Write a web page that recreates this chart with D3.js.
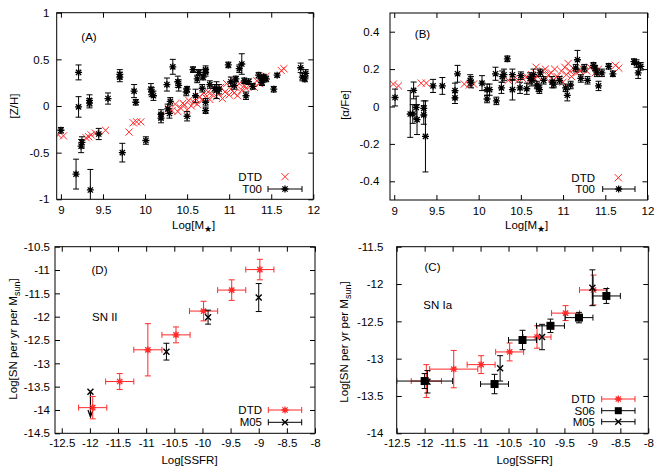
<!DOCTYPE html>
<html><head><meta charset="utf-8">
<script src="https://cdn.jsdelivr.net/npm/d3@7"></script>
<style>body{margin:0;background:#fff}svg{display:block}text{font-family:"Liberation Sans",Arial,sans-serif;font-size:11.5px;fill:#000}</style>
</head><body><svg id="c" width="667" height="467"></svg>
<script>
// ---------- DATA ----------
// Panel A: [Z/H] vs Log M*
const t00A = [[9.00,-0.26,0.03],[9.21,0.36,0.08],[9.21,-0.01,0.11],[9.18,-0.73,0.16],[9.24,-0.43,0.07],[9.25,-0.39,0.06],[9.34,0.06,0.06],[9.34,0.03,0.05],[9.35,-0.90,0.22],[9.45,-0.30,0.06],[9.56,0.08,0.06],[9.70,0.34,0.05],[9.70,0.31,0.05],[9.73,-0.50,0.10],[9.87,0.16,0.07],[9.89,0.04,0.03],[10.01,-0.37,0.04],[10.07,0.18,0.06],[10.08,0.15,0.05],[10.10,0.11,0.05],[10.19,-0.09,0.05],[10.19,-0.13,0.05],[10.26,0.23,0.07],[10.27,-0.03,0.05],[10.29,-0.08,0.05],[10.30,0.05,0.04],[10.33,0.42,0.08],[10.39,0.26,0.06],[10.40,0.22,0.06],[10.49,0.15,0.04],[10.50,0.18,0.03],[10.50,-0.11,0.05],[10.57,0.39,0.03],[10.60,0.11,0.07],[10.62,0.29,0.04],[10.64,0.36,0.03],[10.68,0.19,0.04],[10.69,0.31,0.03],[10.72,0.39,0.04],[10.72,0.36,0.04],[10.72,0.04,0.04],[10.72,-0.05,0.03],[10.77,0.23,0.04],[10.83,0.19,0.04],[10.85,0.17,0.09],[10.88,0.18,0.05],[10.99,0.44,0.03],[11.02,0.26,0.05],[11.06,0.22,0.04],[11.08,0.29,0.03],[11.12,0.40,0.04],[11.15,0.45,0.11],[11.18,0.27,0.03],[11.20,0.11,0.04],[11.23,0.26,0.03],[11.28,0.21,0.03],[11.35,0.33,0.03],[11.38,0.29,0.04],[11.39,0.25,0.03],[11.41,0.31,0.03],[11.44,0.29,0.03],[11.53,0.18,0.03],[11.57,0.33,0.02],[11.85,0.41,0.05],[11.87,0.31,0.04],[11.90,0.29,0.03],[11.91,0.35,0.04]];
const dtdA = [[8.97,-0.31],[9.03,-0.32],[9.30,-0.34],[9.33,-0.33],[9.36,-0.31],[9.41,-0.29],[9.53,-0.26],[9.81,-0.28],[9.86,-0.18],[9.90,-0.17],[9.95,-0.17],[10.28,-0.03],[10.32,-0.05],[10.36,0.02],[10.39,-0.06],[10.42,-0.02],[10.45,0.03],[10.47,0.01],[10.50,-0.04],[10.52,0.06],[10.55,0.00],[10.58,0.04],[10.60,0.08],[10.62,0.02],[10.65,0.10],[10.68,0.06],[10.70,0.14],[10.72,0.09],[10.75,0.15],[10.77,0.07],[10.80,0.12],[10.82,0.18],[10.85,0.10],[10.87,0.14],[10.90,0.20],[10.92,0.08],[10.95,0.15],[10.97,0.24],[11.00,0.12],[11.02,0.18],[11.04,0.28],[11.06,0.14],[11.08,0.20],[11.10,0.11],[11.12,0.24],[11.15,0.17],[11.18,0.22],[11.20,0.19],[11.23,0.26],[11.26,0.22],[11.30,0.20],[11.33,0.27],[11.36,0.24],[11.40,0.30],[11.44,0.32],[11.62,0.38],[11.65,0.40]];
// Panel B: [alpha/Fe] vs Log M*
const t00B = [[9.01,0.048,0.045],[9.19,-0.04,0.125],[9.22,-0.04,0.05],[9.23,0.086,0.045],[9.26,-0.005,0.06],[9.27,-0.07,0.08],[9.35,-0.01,0.04],[9.35,-0.045,0.05],[9.37,-0.16,0.19],[9.46,0.11,0.035],[9.57,0.11,0.045],[9.72,0.085,0.04],[9.72,0.046,0.03],[9.75,0.175,0.045],[9.90,0.14,0.03],[9.91,0.13,0.03],[10.04,0.125,0.04],[10.10,0.09,0.03],[10.10,0.04,0.02],[10.13,0.09,0.03],[10.20,0.175,0.035],[10.21,0.03,0.02],[10.27,0.10,0.03],[10.28,0.16,0.03],[10.30,0.17,0.03],[10.34,0.255,0.015],[10.40,0.09,0.055],[10.40,0.17,0.03],[10.49,0.10,0.03],[10.50,0.165,0.02],[10.57,0.095,0.03],[10.61,0.15,0.03],[10.63,0.14,0.03],[10.65,0.17,0.03],[10.69,0.115,0.02],[10.71,0.10,0.02],[10.72,0.09,0.02],[10.73,0.18,0.02],[10.77,0.14,0.02],[10.87,0.13,0.03],[10.89,0.12,0.02],[10.96,0.14,0.02],[11.03,0.10,0.02],[11.05,0.06,0.03],[11.09,0.115,0.02],[11.15,0.205,0.02],[11.17,0.25,0.05],[11.21,0.15,0.02],[11.25,0.205,0.02],[11.29,0.14,0.02],[11.36,0.22,0.015],[11.38,0.205,0.015],[11.40,0.18,0.02],[11.42,0.11,0.025],[11.46,0.18,0.02],[11.54,0.215,0.015],[11.59,0.175,0.015],[11.84,0.24,0.015],[11.87,0.23,0.02],[11.89,0.18,0.03],[11.92,0.215,0.02]];
const dtdB = [[8.99,0.12],[9.05,0.11],[9.32,0.125],[9.38,0.125],[9.83,0.12],[9.89,0.115],[9.94,0.12],[10.35,0.14],[10.42,0.15],[10.47,0.14],[10.52,0.15],[10.57,0.16],[10.60,0.14],[10.63,0.17],[10.66,0.15],[10.68,0.21],[10.70,0.16],[10.73,0.18],[10.76,0.19],[10.79,0.20],[10.80,0.15],[10.83,0.17],[10.86,0.18],[10.88,0.14],[10.90,0.20],[10.93,0.16],[10.95,0.15],[10.98,0.19],[11.00,0.13],[11.02,0.21],[11.04,0.17],[11.06,0.23],[11.08,0.19],[11.10,0.16],[11.13,0.20],[11.16,0.18],[11.20,0.19],[11.24,0.20],[11.28,0.19],[11.32,0.21],[11.38,0.18],[11.42,0.20],[11.62,0.22],[11.66,0.205]];
// Panel D: SN II  [x, y, xerr, yerr]
const dtdD = [[-11.95,-13.95,0.25,0.24],[-11.47,-13.39,0.25,0.17],[-10.97,-12.71,0.25,0.56],[-10.47,-12.39,0.25,0.17],[-9.98,-11.88,0.25,0.21],[-9.48,-11.43,0.25,0.22],[-8.98,-10.99,0.25,0.22]];
const m05D = [[-10.64,-12.75,0.18],[-9.90,-12.01,0.15],[-9.00,-11.59,0.30]];
const m05DLimit = [[-11.99,-13.61,-14.15]];
// Panel C: SN Ia
const dtdC = [[-11.97,-13.30,0.27,0.22],[-11.48,-13.14,0.43,0.25],[-10.99,-13.08,0.25,0.12],[-10.48,-12.91,0.25,0.12],[-9.99,-12.71,0.25,0.15],[-9.48,-12.39,0.25,0.10],[-8.98,-12.08,0.25,0.20]];
const s06C = [[-12.00,-13.30,0.50,0.10],[-10.75,-13.34,0.25,0.13],[-10.25,-12.75,0.25,0.13],[-9.75,-12.56,0.25,0.09],[-9.24,-12.45,0.25,0.07],[-8.75,-12.16,0.25,0.10]];
const m05C = [[-11.95,-13.31,0.15],[-10.65,-13.13,0.17],[-9.90,-12.71,0.17],[-9.00,-12.05,0.24]];
// ticks
const ticksMass = [9,9.5,10,10.5,11,11.5,12];
const ticksZH = [-1,-0.5,0,0.5,1];
const ticksAFe = [-0.4,-0.2,0,0.2,0.4];
const ticksSSFR = [-12.5,-12,-11.5,-11,-10.5,-10,-9.5,-9,-8.5,-8];
const ticksSNII = [-14.5,-14,-13.5,-13,-12.5,-12,-11.5,-11,-10.5];
const ticksSNIa = [-14,-13.5,-13,-12.5,-12,-11.5];

// ---------- DRAW ----------
const svg = d3.select("#c");
svg.append("rect").attr("width",667).attr("height",467).attr("fill","#fff");
const RED = "#ff2a2a", BLK = "#000";
const fmt = d => String(d);
let clipN = 0;

function panel(o){
  const x = d3.scaleLinear().domain(o.xdom).range([o.fx0,o.fx1]);
  const y = d3.scaleLinear().domain(o.ydom).range([o.fy1,o.fy0]);
  const g = svg.append("g");
  const ax = (gen, tr) => {
    const a = g.append("g").attr("transform",tr).call(gen);
    a.select(".domain").remove();
    a.selectAll("line").attr("stroke","#000");
    a.selectAll("text").style("font-size","11.5px").attr("fill","#000");
    return a;
  };
  ax(d3.axisBottom(x).tickValues(o.xt).tickSize(-5).tickPadding(o.xpad).tickFormat(fmt), `translate(0,${o.fy1})`);
  ax(d3.axisTop(x).tickValues(o.xt).tickSize(-5).tickFormat(""), `translate(0,${o.fy0})`);
  ax(d3.axisLeft(y).tickValues(o.yt).tickSize(-5).tickPadding(o.ypad).tickFormat(fmt), `translate(${o.fx0},0)`);
  ax(d3.axisRight(y).tickValues(o.yt).tickSize(-5).tickFormat(""), `translate(${o.fx1},0)`);
  const id = "clip"+(clipN++);
  svg.append("clipPath").attr("id",id).append("rect").attr("x",o.fx0).attr("y",o.fy0).attr("width",o.fx1-o.fx0).attr("height",o.fy1-o.fy0);
  const pg = g.append("g").attr("clip-path",`url(#${id})`);
  g.append("rect").attr("x",o.fx0).attr("y",o.fy0).attr("width",o.fx1-o.fx0).attr("height",o.fy1-o.fy0).attr("fill","none").attr("stroke","#000").attr("stroke-width",1);
  return {x,y,g,pg};
}
function star(sel,cx,cy,col,r=3.5){
  sel.append("path").attr("d",`M${cx-r},${cy}H${cx+r}M${cx},${cy-r}V${cy+r}M${cx-r*0.75},${cy-r*0.75}L${cx+r*0.75},${cy+r*0.75}M${cx-r*0.75},${cy+r*0.75}L${cx+r*0.75},${cy-r*0.75}`).attr("stroke",col).attr("stroke-width",1.3).attr("fill","none");
}
function cross(sel,cx,cy,col,r=3.6,w=1){
  sel.append("path").attr("d",`M${cx-r},${cy-r}L${cx+r},${cy+r}M${cx-r},${cy+r}L${cx+r},${cy-r}`).attr("stroke",col).attr("stroke-width",w).attr("fill","none");
}
function square(sel,cx,cy,col,s=8){
  sel.append("rect").attr("x",cx-s/2).attr("y",cy-s/2).attr("width",s).attr("height",s).attr("fill",col);
}
function yerr(sel,cx,y1,y2,col,c=3){
  sel.append("path").attr("d",`M${cx},${y1}V${y2}M${cx-c},${y1}H${cx+c}M${cx-c},${y2}H${cx+c}`).attr("stroke",col).attr("stroke-width",1).attr("fill","none");
}
function xerr(sel,x1,x2,cy,col,c=3){
  sel.append("path").attr("d",`M${x1},${cy}H${x2}M${x1},${cy-c}V${cy+c}M${x2},${cy-c}V${cy+c}`).attr("stroke",col).attr("stroke-width",1).attr("fill","none");
}
function text(s,x,y,anchor="start"){ return svg.append("text").attr("x",x).attr("y",y).attr("text-anchor",anchor).text(s); }
function vtext(cx,cy){ return svg.append("text").attr("transform",`translate(${cx},${cy}) rotate(-90)`).attr("text-anchor","middle").attr("dy","0.35em"); }

// ---- Panel A ----
{
  const p = panel({fx0:56.7,fx1:313.3,fy0:12.7,fy1:199.3,xdom:[8.95,12],ydom:[-1,1],xt:ticksMass,yt:ticksZH,ypad:7.4,xpad:7});
  dtdA.forEach(d=>cross(p.pg,p.x(d[0]),p.y(d[1]),RED));
  t00A.forEach(d=>{ yerr(p.pg,p.x(d[0]),p.y(d[1]-d[2]),p.y(d[1]+d[2]),BLK); star(p.pg,p.x(d[0]),p.y(d[1]),BLK); });
  text("(A)",89,41,"middle");
  text("DTD",262,181,"end"); cross(svg,285,176.7,RED);
  text("T00",262,193,"end"); xerr(svg,268,302,189,BLK); star(svg,285,189,BLK);
  const t = text("Log[M",172,229); t.append("tspan").attr("dy",3).style("font-size","9px").text("★"); t.append("tspan").attr("dy",-3).text("]");
  vtext(14,106).text("[Z/H]");
}
// ---- Panel B ----
{
  const p = panel({fx0:390,fx1:647.5,fy0:13,fy1:200,xdom:[8.95,12],ydom:[-0.5,0.5],xt:ticksMass,yt:ticksAFe,ypad:10.7,xpad:7});
  dtdB.forEach(d=>cross(p.pg,p.x(d[0]),p.y(d[1]),RED));
  t00B.forEach(d=>{ yerr(p.pg,p.x(d[0]),p.y(d[1]-d[2]),p.y(d[1]+d[2]),BLK); star(p.pg,p.x(d[0]),p.y(d[1]),BLK); });
  text("(B)",422.5,37.5,"middle");
  text("DTD",595,181.5,"end"); cross(svg,618.3,177.7,RED);
  text("T00",595,193,"end"); xerr(svg,602.7,635,189,BLK); star(svg,618.7,189,BLK);
  const t = text("Log[M",505,229); t.append("tspan").attr("dy",3).style("font-size","9px").text("★"); t.append("tspan").attr("dy",-3).text("]");
  vtext(345,105).text("[α/Fe]");
}
// ---- Panel D ----
{
  const p = panel({fx0:55,fx1:315,fy0:246.7,fy1:433.3,xdom:[-12.62,-8],ydom:[-14.5,-10.5],xt:ticksSSFR,yt:ticksSNII,ypad:5,xpad:6});
  m05DLimit.forEach(d=>{
    const cx=p.x(d[0]), y1=p.y(d[1]), y2=p.y(d[2]);
    p.pg.append("path").attr("d",`M${cx},${y1}V${y2}M${cx-2.5},${y2-7}L${cx},${y2}L${cx+2.5},${y2-7}`).attr("stroke",BLK).attr("stroke-width",1.2).attr("fill","none");
    cross(p.pg,cx,y1,BLK,3,1.4);
  });
  dtdD.forEach(d=>{ const cx=p.x(d[0]),cy=p.y(d[1]);
    xerr(p.pg,p.x(d[0]-d[2]),p.x(d[0]+d[2]),cy,RED); yerr(p.pg,cx,p.y(d[1]-d[3]),p.y(d[1]+d[3]),RED); star(p.pg,cx,cy,RED); });
  m05D.forEach(d=>{ const cx=p.x(d[0]),cy=p.y(d[1]);
    yerr(p.pg,cx,p.y(d[1]-d[2]),p.y(d[1]+d[2]),BLK); cross(p.pg,cx,cy,BLK,3,1.4); });
  text("(D)",99.5,274,"middle");
  text("SN II",92,321);
  text("DTD",262,414,"end"); xerr(svg,268.3,301.7,410,RED); star(svg,285,410,RED);
  text("M05",262,426,"end"); xerr(svg,268.3,301.7,422.3,BLK); cross(svg,285,422.3,BLK,3,1.4);
  text("Log[SSFR]",189.5,463.5,"middle");
  const t = vtext(13,339).text("Log[SN per yr per M"); t.append("tspan").attr("dy",3).style("font-size","9px").text("sun"); t.append("tspan").attr("dy",-3).text("]");
}
// ---- Panel C ----
{
  const p = panel({fx0:396.7,fx1:648.3,fy0:246.7,fy1:433.3,xdom:[-12.5,-8],ydom:[-14,-11.5],xt:ticksSSFR,yt:ticksSNIa,ypad:13.4,xpad:6});
  dtdC.forEach(d=>{ const cx=p.x(d[0]),cy=p.y(d[1]);
    xerr(p.pg,p.x(d[0]-d[2]),p.x(d[0]+d[2]),cy,RED); yerr(p.pg,cx,p.y(d[1]-d[3]),p.y(d[1]+d[3]),RED); star(p.pg,cx,cy,RED); });
  s06C.forEach(d=>{ const cx=p.x(d[0]),cy=p.y(d[1]);
    xerr(p.pg,p.x(d[0]-d[2]),p.x(d[0]+d[2]),cy,BLK); yerr(p.pg,cx,p.y(d[1]-d[3]),p.y(d[1]+d[3]),BLK); square(p.pg,cx,cy,BLK); });
  m05C.forEach(d=>{ const cx=p.x(d[0]),cy=p.y(d[1]);
    yerr(p.pg,cx,p.y(d[1]-d[2]),p.y(d[1]+d[2]),BLK); cross(p.pg,cx,cy,BLK,3,1.4); });
  text("(C)",432.5,271,"middle");
  text("SN Ia",423.3,309);
  text("DTD",595,403,"end"); xerr(svg,601.7,635,399,RED); star(svg,618.3,399,RED);
  text("S06",595,414.7,"end"); xerr(svg,601.7,635,410.7,BLK); square(svg,618.3,410.7,BLK,7);
  text("M05",595,425.7,"end"); xerr(svg,601.7,635,421.7,BLK); cross(svg,618.3,421.7,BLK,3,1.4);
  text("Log[SSFR]",524.5,463.5,"middle");
  const t = vtext(344,342).text("Log[SN per yr per M"); t.append("tspan").attr("dy",3).style("font-size","9px").text("sun"); t.append("tspan").attr("dy",-3).text("]");
}
</script></body></html>
